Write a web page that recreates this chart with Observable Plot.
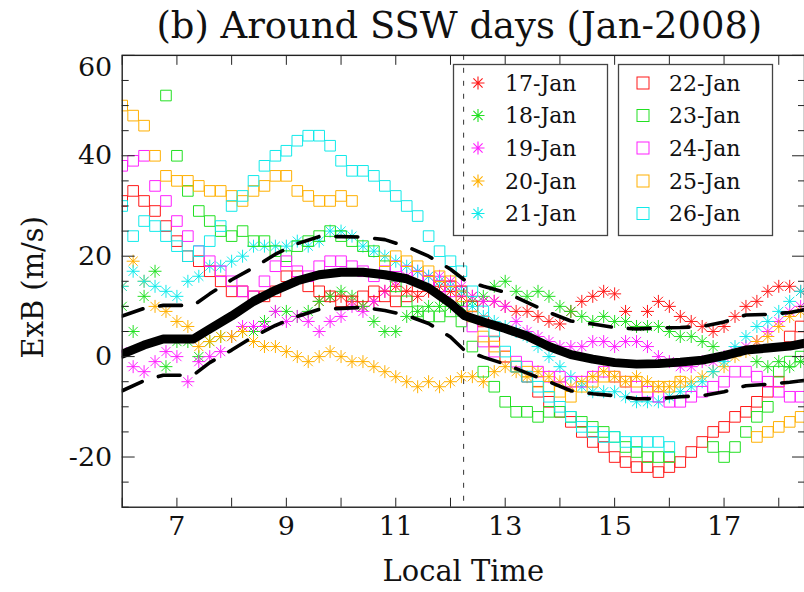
<!DOCTYPE html>
<html>
<head>
<meta charset="utf-8">
<script src="https://cdn.jsdelivr.net/npm/d3@7"></script>
<script src="https://cdn.jsdelivr.net/npm/@observablehq/plot@0.6"></script>
<style>
html,body{margin:0;padding:0;background:#fff;overflow:hidden}
#wrap{position:relative;width:804px;height:592px;overflow:hidden}
</style>
</head>
<body>
<div id="wrap"></div>
<script>
// ---- data ----
const hours = [6.0,6.2,6.4,6.6,6.8,7.0,7.2,7.4,7.6,7.8,
  8.0,8.2,8.4,8.6,8.8,9.0,9.2,9.4,9.6,9.8,
  10.0,10.2,10.4,10.6,10.8,11.0,11.2,11.4,11.6,11.8,
  12.0,12.2,12.4,12.6,12.8,13.0,13.2,13.4,13.6,13.8,
  14.0,14.2,14.4,14.6,14.8,15.0,15.2,15.4,15.6,15.8,
  16.0,16.2,16.4,16.6,16.8,17.0,17.2,17.4,17.6,17.8,
  18.0,18.2,18.4];

const jan17 = [null,null,null,null,null,null,null,null,null,null,
  null,null,null,null,null,null,null,null,11,12,
  12,11,10,11,13,14,13,12,13,14,
  13,12,12,11,11,10,9,9,8,7,
  6.5,9,11,12,13,12.5,9,6,9,11,
  10,8,7,6,5,6,8,10,11,13,
  14,14,13];
const jan18 = [10,5,12,17,-2,3,3,0,3,4,
  4,5,5,7,9,9,8,9,11,12,
  13,12,10,7,5,5,8,9,10,10,
  10,10,11,12,14,15,13,12,13,12,
  10,9,8,7,8,7,7,6,6,6,
  5,4,4,3,2,null,null,null,-1,-2,
  -1,-2,-1];
const jan19 = [1,-2,-3,-1,1,0,-5,-1,0,1,
  4,6,6,6,9,7,8,7,5,7,
  8,10,9,11,13,15,16,17,16,16,
  15,14,12,11,11,10,7,5,4,3,
  2,2,2,3,3,2,3,3,2,0,
  -1,-2,-2,-1,-1,0,1,2,3,5,
  7,9,10];
const jan20 = [14,19,15,10,9,7,6,2,3,4,
  4,5,3,2,2,1,0,-1,0,1,
  0,-1,-1,-2,-3,-4,-5,-6,-5,-6,
  -5,-4,-4,-5,-3,-2,-3,-4,-3,-4,
  -5,-6,-5,-4,-3,-4,-5,-4,-5,-6,
  -6,-5,-5,-4,-3,-2,0,1,3,4,
  6,8,9];
const jan21 = [14,17,15,14,13,12,15,16,18,18,
  19,20,22,22,22,22,23,22,23,25,
  25,24,22,21,20,19,18,17,16,15,
  14,13,10,8,7,6,5,4,2,0,
  -2,-4,-6,-7,-7,-7,-8,-9,-9,-9,
  -8,-7,-6,-5,-3,-1,2,4,6,7,
  9,11,13];
const jan22 = [31,33,31,29,26,23,20,19,17,15,
  13,13,12,12,13,16,16,14,13,12,
  11,11,12,13,12,11,12,14,15,14,
  14,13,10,7,3,0,-2,-4,-7,-9,
  -11,-13,-15,-17,-18,-20,-21,-22,-22,-23,
  -22,-21,-19,-17,-15,-14,-12,-11,-9,-7,
  -5,4,6];
const jan23 = [null,null,null,null,52,40,33,29,27,25,
  24,25,23,23,21,20,22,23,24,25,
  24,23,22,21,18,14,11,9,8,8,
  9,7,2,-3,-6,-9,-11,-11,-12,-11,
  -11,-12,-13,-14,-15,-16,-18,-19,-20,-20,
  -20,null,null,null,-18,-20,-18,-15,-12,-10,
  -3,-1,0];
const jan24 = [38,39,40,34,31,27,24,21,19,17,
  15,13,12,15,18,19,17,16,18,19,
  19,18,17,16,17,18,17,16,15,14,
  13,11,6,3,1,0,-1,-2,-3,-4,
  -4,-5,-5,-4,-3,-4,-5,-6,-7,-8,
  -9,-9,-8,-7,-6,-5,-3,-3,-4,-5,
  -7,-8,-8];
const jan25 = [50,48,46,40,36,35,35,34,33,33,
  32,31,33,34,36,36,33,32,31,31,
  32,31,null,null,19,20,19,18,17,16,
  15,12,8,4,2,0,-2,-3,-5,-6,
  -7,-8,-6,-5,-4,-4,-5,-5,-6,-6,
  -6,-5,null,null,null,null,null,null,-16,-15,
  -14,-13,-12];
const jan26 = [30,24,27,26,24,22,20,21,23,26,
  30,32,35,38,40,41,43,44,44,42,
  39,37,37,36,34,32,30,28,24,21,
  19,17,13,9,5,1,-2,-4,-6,-8,
  -10,-12,-14,-15,-16,-16,-17,-17,-17,-17,
  -18,null,null,null,null,null,null,null,null,null,
  null,null,null];

const meanHours = [6.0,6.4,6.75,7.3,7.6,8.0,8.4,8.8,9.2,9.6,10.0,10.4,10.8,11.2,11.6,12.0,12.25,12.6,13.0,13.4,13.8,14.2,14.6,15.0,15.4,15.8,16.2,16.6,17.0,17.4,17.8,18.2,18.5];
const meanVals  = [0.5,2.3,3.5,3.5,5.5,8.1,11.0,13.2,15.1,16.3,16.8,16.8,16.3,15.5,13.7,10.6,8.2,6.9,5.6,4.1,2.0,0.4,-0.5,-1.2,-1.5,-1.4,-1.1,-0.7,0.2,1.3,1.7,2.1,2.7];
const upperVals = [8.1,9.6,10.2,10.2,12.5,15.3,17.7,20.4,22.5,23.9,23.9,23.8,23.3,21.9,20.0,17.4,15.3,14.0,12.8,10.8,8.8,7.1,6.5,5.8,5.5,5.7,5.8,6.0,6.9,8.3,8.4,8.8,9.4];
const lowerVals = [-6.8,-4.8,-3.7,-3.7,-1.2,1.3,4.0,6.2,8.0,9.4,9.6,9.8,9.2,8.2,6.6,3.9,1.3,-0.1,-1.5,-3.3,-5.0,-6.8,-7.4,-7.8,-8.4,-8.4,-8.0,-7.8,-7.0,-5.8,-5.5,-5.1,-4.7];

const sswHour = [12.24];
const dayNames = ["17-Jan","18-Jan","19-Jan","20-Jan","21-Jan","22-Jan","23-Jan","24-Jan","25-Jan","26-Jan"];
const dayColors = ["#ff1818","#22e022","#ff20ff","#ffb000","#10eaea","#ff1818","#22e022","#ff20ff","#ffb000","#10eaea"];
const xTicks = [6,7,8,9,10,11,12,13,14,15,16,17,18];
const xTickLabels = [7,9,11,13,15,17];
const yMajor = [-20,0,20,40,60];
const yLabelsLow = [-20,0,20,40];
const yLabelTop = [60];
const yMinor = [-30,-25,-15,-10,-5,5,10,15,25,30,35,45,50,55];
const titleText = "(b) Around SSW days (Jan-2008)";
const xLabel = "Local Time";
const yLabel = "ExB (m/s)";

// ---- build ----
const seriesVals = [jan17,jan18,jan19,jan20,jan21,jan22,jan23,jan24,jan25,jan26];
const asterisk = {
  draw(ctx, size) {
    const r = Math.sqrt(size / Math.PI);
    const d = r * Math.SQRT1_2;
    ctx.moveTo(-r, 0); ctx.lineTo(r, 0);
    ctx.moveTo(0, -r); ctx.lineTo(0, r);
    ctx.moveTo(-d, -d); ctx.lineTo(d, d);
    ctx.moveTo(-d, d); ctx.lineTo(d, -d);
  }
};
const rowsOf = vals => hours.map((h, i) => ({hour: h, v: vals[i]})).filter(d => d.v != null);
const lineRows = vals => meanHours.map((h, i) => ({hour: h, v: vals[i]}));

const FONT = "DejaVu Serif";
const dotMarks = seriesVals.map((vals, k) => Plot.dot(rowsOf(vals), {
  x: "hour", y: "v",
  stroke: dayColors[k],
  fill: "none",
  strokeWidth: 1,
  symbol: k < 5 ? asterisk : "square",
  r: k < 5 ? 6.5 : 6,
  clip: true
}));

const tickStroke = "#222";
const labelOpts = {tickSize: 0, fontSize: 27, fontFamily: FONT, tickFormat: d => String(d), label: null, fill: "#111"};
const chart = Plot.plot({
  width: 806, height: 592,
  marginLeft: 122, marginRight: 0, marginTop: 55, marginBottom: 84,
  x: {domain: [6, 18.47], axis: null},
  y: {domain: [-30, 60], axis: null},
  style: {fontFamily: FONT, background: "white", overflow: "visible", color: "#111"},
  marks: [
    ...dotMarks,
    Plot.ruleX(sswHour, {stroke: "#333", strokeWidth: 1, strokeDasharray: "5,8"}),
    Plot.line(lineRows(upperVals), {x: "hour", y: "v", stroke: "black", strokeWidth: 3.6, strokeDasharray: "22,17", clip: true}),
    Plot.line(lineRows(lowerVals), {x: "hour", y: "v", stroke: "black", strokeWidth: 3.6, strokeDasharray: "22,17", clip: true}),
    Plot.line(lineRows(meanVals), {x: "hour", y: "v", stroke: "black", strokeWidth: 9, clip: true}),
    Plot.frame({stroke: tickStroke, strokeWidth: 1.4}),
    Plot.axisX(xTicks, {anchor: "bottom", tickSize: 9, dy: -9, tickFormat: () => "", stroke: tickStroke, label: null}),
    Plot.axisX(xTicks, {anchor: "top", tickSize: 9, dy: 9, tickFormat: () => "", stroke: tickStroke, label: null}),
    Plot.axisY(yMinor, {anchor: "left", tickSize: 7, dx: 7, tickFormat: () => "", stroke: tickStroke, label: null}),
    Plot.axisY(yMajor, {anchor: "left", tickSize: 13, dx: 13, tickFormat: () => "", stroke: tickStroke, label: null}),
    Plot.axisY(yMinor, {anchor: "right", tickSize: 7, dx: -7, tickFormat: () => "", stroke: tickStroke, label: null}),
    Plot.axisY(yMajor, {anchor: "right", tickSize: 13, dx: -13, tickFormat: () => "", stroke: tickStroke, label: null}),
    Plot.axisX(xTickLabels, {...labelOpts, anchor: "bottom", tickPadding: 9}),
    Plot.axisY(yLabelsLow, {...labelOpts, anchor: "left", tickPadding: 10}),
    Plot.axisY(yLabelTop, {...labelOpts, anchor: "left", tickPadding: 10, dy: 12}),
    Plot.text([titleText], {text: d => d, frameAnchor: "top", lineAnchor: "middle", textAnchor: "middle", dx: -4, dy: -29, fontSize: 37, fontFamily: FONT, fill: "#111"}),
    Plot.text([xLabel], {text: d => d, frameAnchor: "bottom", lineAnchor: "middle", textAnchor: "middle", dy: 65, fontSize: 29, fontFamily: FONT, fill: "#111"}),
    Plot.text([yLabel], {text: d => d, frameAnchor: "left", lineAnchor: "middle", textAnchor: "middle", rotate: -90, dx: -89, dy: 6, fontSize: 29, fontFamily: FONT, fill: "#111"})
  ]
});
const wrap = document.getElementById("wrap");
wrap.appendChild(chart);

// ---- legend overlay ----
const leg = d3.select(wrap).append("svg")
  .attr("width", 804).attr("height", 592)
  .style("position", "absolute").style("left", "0px").style("top", "0px")
  .style("pointer-events", "none");
const boxes = [{x: 453, sym: 478, txt: 505}, {x: 618, sym: 643, txt: 669}];
const rowY = [83, 115.5, 148, 181, 213.5];
boxes.forEach((b, bi) => {
  leg.append("rect").attr("x", b.x + 0.5).attr("y", 64.5).attr("width", 154).attr("height", 171)
    .attr("fill", "none").attr("stroke", "#444").attr("stroke-width", 1.3);
  rowY.forEach((yy, ri) => {
    const k = bi * 5 + ri;
    const g = leg.append("g").attr("transform", `translate(${b.sym},${yy})`);
    if (bi === 0) {
      const r = 6.5, d = r * Math.SQRT1_2;
      g.append("path").attr("d", `M${-r},0L${r},0M0,${-r}L0,${r}M${-d},${-d}L${d},${d}M${-d},${d}L${d},${-d}`)
        .attr("stroke", dayColors[k]).attr("stroke-width", 1.1).attr("fill", "none");
    } else {
      g.append("rect").attr("x", -6).attr("y", -6).attr("width", 12).attr("height", 12)
        .attr("stroke", dayColors[k]).attr("stroke-width", 1).attr("fill", "none");
    }
    leg.append("text").attr("x", b.txt).attr("y", yy).attr("dy", "0.36em")
      .attr("font-family", FONT).attr("font-size", 22).attr("fill", "#111").text(dayNames[k]);
  });
});
</script>
</body>
</html>
